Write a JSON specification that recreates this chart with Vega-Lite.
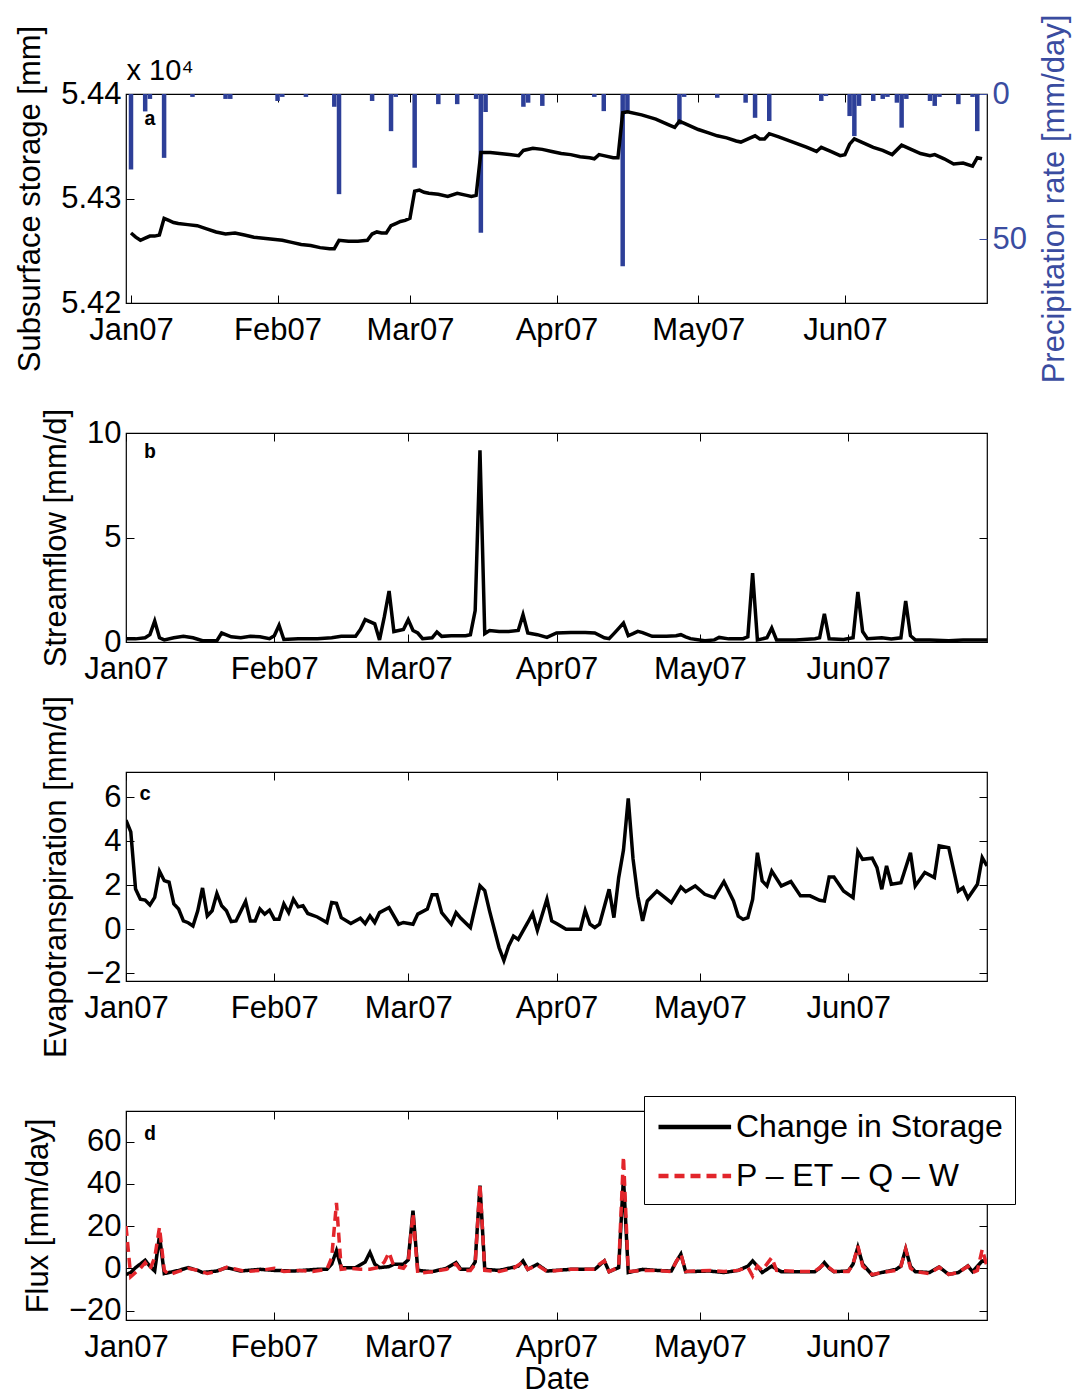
{
  "$schema": "https://vega.github.io/schema/vega-lite/v6.json",
  "background": "white",
  "padding": {"left": 13, "top": 13, "right": 5, "bottom": 5},
  "bounds": "flush",
  "spacing": 130,
  "resolve": {"legend": {"color": "independent", "strokeDash": "independent"}},
  "config": {
    "view": {"stroke": "black", "strokeWidth": 1.2},
    "font": "Liberation Sans",
    "axis": {"domain": false, "grid": false, "tickSize": -8, "tickColor": "black", "tickWidth": 1,
      "labelFont": "Liberation Sans", "labelFontSize": 31, "labelColor": "black", "labelPadding": 13,
      "titleFont": "Liberation Sans", "titleFontSize": 31, "titleFontWeight": "normal", "titleColor": "black"},
    "axisX": {"labelPadding": 20}
  },
  "datasets": {
    "storage": [
      {"d":"2007-01-01","v":54267},{"d":"2007-01-02","v":54263},{"d":"2007-01-03","v":54260},{"d":"2007-01-04","v":54262},{"d":"2007-01-05","v":54264},{"d":"2007-01-06","v":54264},{"d":"2007-01-07","v":54265},{"d":"2007-01-08","v":54281},{"d":"2007-01-09","v":54279},{"d":"2007-01-10","v":54277},{"d":"2007-01-11","v":54276},{"d":"2007-01-13","v":54275},{"d":"2007-01-15","v":54274},{"d":"2007-01-17","v":54271},{"d":"2007-01-19","v":54268},{"d":"2007-01-21","v":54266},{"d":"2007-01-23","v":54267},{"d":"2007-01-25","v":54265},{"d":"2007-01-27","v":54263},{"d":"2007-01-29","v":54262},{"d":"2007-01-31","v":54261},
      {"d":"2007-02-02","v":54260},{"d":"2007-02-04","v":54258},{"d":"2007-02-06","v":54256},{"d":"2007-02-08","v":54255},{"d":"2007-02-10","v":54253},{"d":"2007-02-12","v":54252},{"d":"2007-02-13","v":54252},{"d":"2007-02-14","v":54260},{"d":"2007-02-16","v":54259},{"d":"2007-02-18","v":54259},{"d":"2007-02-20","v":54260},{"d":"2007-02-21","v":54266},{"d":"2007-02-22","v":54268},{"d":"2007-02-23","v":54267},{"d":"2007-02-24","v":54267},{"d":"2007-02-25","v":54274},{"d":"2007-02-26","v":54276},{"d":"2007-02-27","v":54278},{"d":"2007-02-28","v":54279},
      {"d":"2007-03-01","v":54281},{"d":"2007-03-02","v":54307},{"d":"2007-03-03","v":54308},{"d":"2007-03-04","v":54306},{"d":"2007-03-05","v":54305},{"d":"2007-03-07","v":54304},{"d":"2007-03-09","v":54302},{"d":"2007-03-11","v":54305},{"d":"2007-03-13","v":54303},{"d":"2007-03-14","v":54302},{"d":"2007-03-15","v":54303},{"d":"2007-03-16","v":54344},{"d":"2007-03-18","v":54344},{"d":"2007-03-20","v":54343},{"d":"2007-03-22","v":54342},{"d":"2007-03-24","v":54341},{"d":"2007-03-25","v":54346},{"d":"2007-03-27","v":54348},{"d":"2007-03-29","v":54347},{"d":"2007-03-31","v":54345},
      {"d":"2007-04-02","v":54343},{"d":"2007-04-04","v":54342},{"d":"2007-04-06","v":54340},{"d":"2007-04-08","v":54339},{"d":"2007-04-09","v":54338},{"d":"2007-04-10","v":54342},{"d":"2007-04-11","v":54341},{"d":"2007-04-13","v":54339},{"d":"2007-04-14","v":54339},{"d":"2007-04-15","v":54382},{"d":"2007-04-16","v":54383},{"d":"2007-04-19","v":54380},{"d":"2007-04-22","v":54376},{"d":"2007-04-25","v":54370},{"d":"2007-04-26","v":54368},{"d":"2007-04-27","v":54374},{"d":"2007-04-29","v":54370},
      {"d":"2007-05-01","v":54366},{"d":"2007-05-03","v":54363},{"d":"2007-05-05","v":54360},{"d":"2007-05-07","v":54358},{"d":"2007-05-09","v":54355},{"d":"2007-05-10","v":54354},{"d":"2007-05-12","v":54358},{"d":"2007-05-13","v":54360},{"d":"2007-05-14","v":54357},{"d":"2007-05-15","v":54357},{"d":"2007-05-16","v":54362},{"d":"2007-05-18","v":54359},{"d":"2007-05-21","v":54354},{"d":"2007-05-24","v":54349},{"d":"2007-05-26","v":54345},{"d":"2007-05-27","v":54349},{"d":"2007-05-29","v":54345},{"d":"2007-05-31","v":54341},
      {"d":"2007-06-01","v":54342},{"d":"2007-06-02","v":54352},{"d":"2007-06-03","v":54357},{"d":"2007-06-05","v":54353},{"d":"2007-06-07","v":54349},{"d":"2007-06-09","v":54346},{"d":"2007-06-11","v":54342},{"d":"2007-06-13","v":54351},{"d":"2007-06-15","v":54347},{"d":"2007-06-17","v":54343},{"d":"2007-06-19","v":54341},{"d":"2007-06-20","v":54342},{"d":"2007-06-22","v":54338},{"d":"2007-06-24","v":54333},{"d":"2007-06-26","v":54334},{"d":"2007-06-28","v":54331},{"d":"2007-06-29","v":54339},{"d":"2007-06-30","v":54338}
    ],
    "precip": [
      {"d":"2007-01-01","p":26},{"d":"2007-01-04","p":6},{"d":"2007-01-05","p":1.7},{"d":"2007-01-08","p":22},{"d":"2007-01-14","p":1},{"d":"2007-01-21","p":1.7},{"d":"2007-01-22","p":1.7},
      {"d":"2007-02-01","p":2.4},{"d":"2007-02-02","p":1},{"d":"2007-02-07","p":1},{"d":"2007-02-13","p":4.4},{"d":"2007-02-14","p":34.5},{"d":"2007-02-21","p":2.4},{"d":"2007-02-25","p":12.8},{"d":"2007-02-26","p":1},
      {"d":"2007-03-02","p":25.4},{"d":"2007-03-07","p":3.5},{"d":"2007-03-11","p":3.5},{"d":"2007-03-15","p":1.7},{"d":"2007-03-16","p":47.8},{"d":"2007-03-17","p":6.2},{"d":"2007-03-25","p":4.4},{"d":"2007-03-26","p":3},{"d":"2007-03-29","p":4.1},
      {"d":"2007-04-09","p":1},{"d":"2007-04-11","p":5.9},{"d":"2007-04-15","p":59.3},{"d":"2007-04-16","p":5.9},{"d":"2007-04-27","p":10.5},{"d":"2007-04-28","p":1},
      {"d":"2007-05-05","p":1.3},{"d":"2007-05-11","p":3},{"d":"2007-05-13","p":8.2},{"d":"2007-05-16","p":9.3},{"d":"2007-05-27","p":2.4},{"d":"2007-05-28","p":0.7},
      {"d":"2007-06-02","p":7.6},{"d":"2007-06-03","p":14.5},{"d":"2007-06-04","p":4.1},{"d":"2007-06-07","p":2.4},{"d":"2007-06-09","p":1.7},{"d":"2007-06-10","p":1},{"d":"2007-06-12","p":3},{"d":"2007-06-13","p":11.6},{"d":"2007-06-14","p":1.7},{"d":"2007-06-19","p":2.4},{"d":"2007-06-20","p":4.1},{"d":"2007-06-21","p":1},{"d":"2007-06-25","p":3.5},{"d":"2007-06-28","p":1},{"d":"2007-06-29","p":12.8}
    ],
    "flow": [
      {"d":"2007-01-01","q":0.16},{"d":"2007-01-03","q":0.15},{"d":"2007-01-05","q":0.2},{"d":"2007-01-06","q":0.35},{"d":"2007-01-07","q":1.0},{"d":"2007-01-08","q":0.2},{"d":"2007-01-09","q":0.1},{"d":"2007-01-11","q":0.2},{"d":"2007-01-13","q":0.27},{"d":"2007-01-15","q":0.2},{"d":"2007-01-17","q":0.06},{"d":"2007-01-20","q":0.06},{"d":"2007-01-21","q":0.43},{"d":"2007-01-23","q":0.25},{"d":"2007-01-25","q":0.2},{"d":"2007-01-27","q":0.27},{"d":"2007-01-29","q":0.25},{"d":"2007-01-31","q":0.16},
      {"d":"2007-02-01","q":0.3},{"d":"2007-02-02","q":0.8},{"d":"2007-02-03","q":0.12},{"d":"2007-02-06","q":0.15},{"d":"2007-02-10","q":0.16},{"d":"2007-02-13","q":0.2},{"d":"2007-02-15","q":0.27},{"d":"2007-02-18","q":0.27},{"d":"2007-02-19","q":0.6},{"d":"2007-02-20","q":1.07},{"d":"2007-02-22","q":0.87},{"d":"2007-02-23","q":0.1},{"d":"2007-02-24","q":1.2},{"d":"2007-02-25","q":2.44},{"d":"2007-02-26","q":0.5},{"d":"2007-02-27","q":0.55},{"d":"2007-02-28","q":0.6},
      {"d":"2007-03-01","q":1.07},{"d":"2007-03-02","q":0.55},{"d":"2007-03-03","q":0.43},{"d":"2007-03-04","q":0.16},{"d":"2007-03-06","q":0.2},{"d":"2007-03-07","q":0.48},{"d":"2007-03-08","q":0.27},{"d":"2007-03-10","q":0.3},{"d":"2007-03-13","q":0.3},{"d":"2007-03-14","q":0.35},{"d":"2007-03-15","q":1.5},{"d":"2007-03-16","q":9.17},{"d":"2007-03-17","q":0.4},{"d":"2007-03-18","q":0.55},{"d":"2007-03-20","q":0.5},{"d":"2007-03-22","q":0.5},{"d":"2007-03-24","q":0.55},{"d":"2007-03-25","q":1.31},{"d":"2007-03-26","q":0.43},{"d":"2007-03-28","q":0.35},{"d":"2007-03-30","q":0.22},
      {"d":"2007-04-01","q":0.43},{"d":"2007-04-04","q":0.45},{"d":"2007-04-07","q":0.45},{"d":"2007-04-09","q":0.43},{"d":"2007-04-11","q":0.2},{"d":"2007-04-12","q":0.16},{"d":"2007-04-13","q":0.4},{"d":"2007-04-14","q":0.65},{"d":"2007-04-15","q":0.91},{"d":"2007-04-16","q":0.3},{"d":"2007-04-17","q":0.4},{"d":"2007-04-18","q":0.51},{"d":"2007-04-19","q":0.45},{"d":"2007-04-21","q":0.27},{"d":"2007-04-24","q":0.27},{"d":"2007-04-26","q":0.3},{"d":"2007-04-27","q":0.35},{"d":"2007-04-28","q":0.25},{"d":"2007-04-29","q":0.16},
      {"d":"2007-05-02","q":0.06},{"d":"2007-05-04","q":0.1},{"d":"2007-05-05","q":0.22},{"d":"2007-05-07","q":0.15},{"d":"2007-05-10","q":0.16},{"d":"2007-05-11","q":0.25},{"d":"2007-05-12","q":3.3},{"d":"2007-05-13","q":0.1},{"d":"2007-05-15","q":0.2},{"d":"2007-05-16","q":0.67},{"d":"2007-05-17","q":0.1},{"d":"2007-05-21","q":0.1},{"d":"2007-05-25","q":0.16},{"d":"2007-05-26","q":0.2},{"d":"2007-05-27","q":1.35},{"d":"2007-05-28","q":0.15},{"d":"2007-05-31","q":0.12},
      {"d":"2007-06-02","q":0.2},{"d":"2007-06-03","q":2.4},{"d":"2007-06-04","q":0.5},{"d":"2007-06-05","q":0.16},{"d":"2007-06-08","q":0.2},{"d":"2007-06-10","q":0.15},{"d":"2007-06-12","q":0.2},{"d":"2007-06-13","q":1.96},{"d":"2007-06-14","q":0.3},{"d":"2007-06-15","q":0.1},{"d":"2007-06-18","q":0.1},{"d":"2007-06-22","q":0.06},{"d":"2007-06-25","q":0.1},{"d":"2007-06-28","q":0.1},{"d":"2007-06-30","q":0.1}
    ],
    "et": [
      {"d":"2007-01-01","e":4.96},{"d":"2007-01-02","e":4.43},{"d":"2007-01-03","e":1.83},{"d":"2007-01-04","e":1.37},{"d":"2007-01-05","e":1.33},{"d":"2007-01-06","e":1.11},{"d":"2007-01-07","e":1.45},{"d":"2007-01-08","e":2.64},{"d":"2007-01-09","e":2.21},{"d":"2007-01-10","e":2.14},{"d":"2007-01-11","e":1.15},{"d":"2007-01-12","e":0.92},{"d":"2007-01-13","e":0.38},{"d":"2007-01-14","e":0.3},{"d":"2007-01-15","e":0.15},{"d":"2007-01-16","e":0.84},{"d":"2007-01-17","e":1.88},{"d":"2007-01-18","e":0.61},{"d":"2007-01-19","e":0.84},{"d":"2007-01-20","e":1.63},{"d":"2007-01-21","e":1.07},{"d":"2007-01-22","e":0.84},{"d":"2007-01-23","e":0.35},{"d":"2007-01-24","e":0.38},{"d":"2007-01-26","e":1.27},{"d":"2007-01-27","e":0.38},{"d":"2007-01-28","e":0.38},{"d":"2007-01-29","e":0.92},{"d":"2007-01-30","e":0.69},{"d":"2007-01-31","e":0.87},
      {"d":"2007-02-01","e":0.46},{"d":"2007-02-02","e":0.46},{"d":"2007-02-03","e":1.15},{"d":"2007-02-04","e":0.76},{"d":"2007-02-05","e":1.37},{"d":"2007-02-06","e":1.02},{"d":"2007-02-07","e":1.07},{"d":"2007-02-08","e":0.72},{"d":"2007-02-10","e":0.56},{"d":"2007-02-12","e":0.31},{"d":"2007-02-13","e":1.22},{"d":"2007-02-14","e":1.18},{"d":"2007-02-15","e":0.53},{"d":"2007-02-17","e":0.26},{"d":"2007-02-19","e":0.5},{"d":"2007-02-20","e":0.26},{"d":"2007-02-21","e":0.61},{"d":"2007-02-22","e":0.31},{"d":"2007-02-23","e":0.76},{"d":"2007-02-25","e":0.99},{"d":"2007-02-27","e":0.23},{"d":"2007-02-28","e":0.31},
      {"d":"2007-03-02","e":0.23},{"d":"2007-03-03","e":0.69},{"d":"2007-03-05","e":0.92},{"d":"2007-03-06","e":1.57},{"d":"2007-03-07","e":1.57},{"d":"2007-03-08","e":0.76},{"d":"2007-03-10","e":0.23},{"d":"2007-03-11","e":0.76},{"d":"2007-03-12","e":0.5},{"d":"2007-03-14","e":0.08},{"d":"2007-03-16","e":1.98},{"d":"2007-03-17","e":1.76},{"d":"2007-03-18","e":0.84},{"d":"2007-03-20","e":-0.84},{"d":"2007-03-21","e":-1.42},{"d":"2007-03-22","e":-0.76},{"d":"2007-03-23","e":-0.31},{"d":"2007-03-24","e":-0.46},{"d":"2007-03-26","e":0.31},{"d":"2007-03-27","e":0.72},{"d":"2007-03-28","e":-0.05},{"d":"2007-03-30","e":1.37},{"d":"2007-03-31","e":0.38},
      {"d":"2007-04-01","e":0.26},{"d":"2007-04-03","e":0.0},{"d":"2007-04-06","e":0.0},{"d":"2007-04-07","e":0.86},{"d":"2007-04-08","e":0.23},{"d":"2007-04-09","e":0.08},{"d":"2007-04-10","e":0.23},{"d":"2007-04-12","e":1.82},{"d":"2007-04-13","e":0.53},{"d":"2007-04-14","e":2.35},{"d":"2007-04-15","e":3.6},{"d":"2007-04-16","e":5.95},{"d":"2007-04-17","e":3.2},{"d":"2007-04-18","e":1.5},{"d":"2007-04-19","e":0.38},{"d":"2007-04-20","e":1.29},{"d":"2007-04-22","e":1.74},{"d":"2007-04-25","e":1.21},{"d":"2007-04-27","e":1.92},{"d":"2007-04-28","e":1.71},{"d":"2007-04-30","e":1.97},
      {"d":"2007-05-02","e":1.59},{"d":"2007-05-04","e":1.44},{"d":"2007-05-06","e":2.17},{"d":"2007-05-08","e":1.29},{"d":"2007-05-09","e":0.6},{"d":"2007-05-10","e":0.45},{"d":"2007-05-11","e":0.53},{"d":"2007-05-12","e":1.36},{"d":"2007-05-13","e":3.48},{"d":"2007-05-14","e":2.2},{"d":"2007-05-15","e":1.97},{"d":"2007-05-16","e":2.65},{"d":"2007-05-18","e":1.97},{"d":"2007-05-20","e":2.17},{"d":"2007-05-22","e":1.52},{"d":"2007-05-24","e":1.52},{"d":"2007-05-26","e":1.32},{"d":"2007-05-27","e":1.29},{"d":"2007-05-28","e":2.38},{"d":"2007-05-29","e":2.38},{"d":"2007-05-31","e":1.74},
      {"d":"2007-06-02","e":1.44},{"d":"2007-06-03","e":3.53},{"d":"2007-06-04","e":3.18},{"d":"2007-06-06","e":3.23},{"d":"2007-06-07","e":2.8},{"d":"2007-06-08","e":1.82},{"d":"2007-06-09","e":2.88},{"d":"2007-06-10","e":2.05},{"d":"2007-06-12","e":2.12},{"d":"2007-06-14","e":3.48},{"d":"2007-06-15","e":1.97},{"d":"2007-06-17","e":2.58},{"d":"2007-06-19","e":2.35},{"d":"2007-06-20","e":3.79},{"d":"2007-06-22","e":3.71},{"d":"2007-06-24","e":1.74},{"d":"2007-06-25","e":1.89},{"d":"2007-06-26","e":1.41},{"d":"2007-06-28","e":2.05},{"d":"2007-06-29","e":3.26},{"d":"2007-06-30","e":2.88}
    ],
    "flux": [
      {"s":"Change in Storage","d":"2007-01-01","f":-3},{"s":"Change in Storage","d":"2007-01-02","f":-2},{"s":"Change in Storage","d":"2007-01-03","f":0.3},{"s":"Change in Storage","d":"2007-01-04","f":2},{"s":"Change in Storage","d":"2007-01-05","f":3.8},{"s":"Change in Storage","d":"2007-01-06","f":1},{"s":"Change in Storage","d":"2007-01-07","f":-1.3},{"s":"Change in Storage","d":"2007-01-08","f":15.4},{"s":"Change in Storage","d":"2007-01-09","f":-2.5},{"s":"Change in Storage","d":"2007-01-10","f":-2},{"s":"Change in Storage","d":"2007-01-12","f":-1},{"s":"Change in Storage","d":"2007-01-14","f":0.3},{"s":"Change in Storage","d":"2007-01-16","f":-1},{"s":"Change in Storage","d":"2007-01-17","f":-2},{"s":"Change in Storage","d":"2007-01-20","f":-1.3},{"s":"Change in Storage","d":"2007-01-22","f":0.3},{"s":"Change in Storage","d":"2007-01-25","f":-1.3},{"s":"Change in Storage","d":"2007-01-29","f":-0.5},
      {"s":"Change in Storage","d":"2007-02-01","f":-1},{"s":"Change in Storage","d":"2007-02-05","f":-1.3},{"s":"Change in Storage","d":"2007-02-10","f":-0.5},{"s":"Change in Storage","d":"2007-02-12","f":-0.5},{"s":"Change in Storage","d":"2007-02-13","f":2},{"s":"Change in Storage","d":"2007-02-14","f":8.3},{"s":"Change in Storage","d":"2007-02-15","f":0.3},{"s":"Change in Storage","d":"2007-02-18","f":0.3},{"s":"Change in Storage","d":"2007-02-20","f":3},{"s":"Change in Storage","d":"2007-02-21","f":7.5},{"s":"Change in Storage","d":"2007-02-22","f":2},{"s":"Change in Storage","d":"2007-02-23","f":0.3},{"s":"Change in Storage","d":"2007-02-25","f":0.8},{"s":"Change in Storage","d":"2007-02-26","f":1.9},{"s":"Change in Storage","d":"2007-02-28","f":1.9},
      {"s":"Change in Storage","d":"2007-03-01","f":4},{"s":"Change in Storage","d":"2007-03-02","f":27.3},{"s":"Change in Storage","d":"2007-03-03","f":-1},{"s":"Change in Storage","d":"2007-03-06","f":-1.6},{"s":"Change in Storage","d":"2007-03-09","f":0},{"s":"Change in Storage","d":"2007-03-11","f":2.7},{"s":"Change in Storage","d":"2007-03-12","f":-0.5},{"s":"Change in Storage","d":"2007-03-14","f":-0.5},{"s":"Change in Storage","d":"2007-03-15","f":3},{"s":"Change in Storage","d":"2007-03-16","f":39.2},{"s":"Change in Storage","d":"2007-03-17","f":-0.5},{"s":"Change in Storage","d":"2007-03-20","f":-1},{"s":"Change in Storage","d":"2007-03-24","f":1},{"s":"Change in Storage","d":"2007-03-25","f":3.5},{"s":"Change in Storage","d":"2007-03-26","f":-0.5},{"s":"Change in Storage","d":"2007-03-28","f":1.9},{"s":"Change in Storage","d":"2007-03-30","f":-1.3},
      {"s":"Change in Storage","d":"2007-04-04","f":-0.5},{"s":"Change in Storage","d":"2007-04-09","f":-0.5},{"s":"Change in Storage","d":"2007-04-10","f":1.5},{"s":"Change in Storage","d":"2007-04-11","f":3.5},{"s":"Change in Storage","d":"2007-04-12","f":-1.6},{"s":"Change in Storage","d":"2007-04-14","f":0.3},{"s":"Change in Storage","d":"2007-04-15","f":43},{"s":"Change in Storage","d":"2007-04-16","f":-2},{"s":"Change in Storage","d":"2007-04-19","f":-0.5},{"s":"Change in Storage","d":"2007-04-22","f":-1},{"s":"Change in Storage","d":"2007-04-25","f":-1.3},{"s":"Change in Storage","d":"2007-04-26","f":3},{"s":"Change in Storage","d":"2007-04-27","f":6.7},{"s":"Change in Storage","d":"2007-04-28","f":-1.6},
      {"s":"Change in Storage","d":"2007-05-03","f":-1.3},{"s":"Change in Storage","d":"2007-05-06","f":-2},{"s":"Change in Storage","d":"2007-05-09","f":-1},{"s":"Change in Storage","d":"2007-05-11","f":1},{"s":"Change in Storage","d":"2007-05-12","f":3.5},{"s":"Change in Storage","d":"2007-05-13","f":1},{"s":"Change in Storage","d":"2007-05-14","f":-2},{"s":"Change in Storage","d":"2007-05-16","f":1},{"s":"Change in Storage","d":"2007-05-18","f":-1.6},{"s":"Change in Storage","d":"2007-05-25","f":-1.6},{"s":"Change in Storage","d":"2007-05-26","f":0},{"s":"Change in Storage","d":"2007-05-27","f":2.7},{"s":"Change in Storage","d":"2007-05-28","f":0},{"s":"Change in Storage","d":"2007-05-29","f":-1.6},
      {"s":"Change in Storage","d":"2007-06-01","f":-1.3},{"s":"Change in Storage","d":"2007-06-02","f":2},{"s":"Change in Storage","d":"2007-06-03","f":9.9},{"s":"Change in Storage","d":"2007-06-04","f":2},{"s":"Change in Storage","d":"2007-06-06","f":-3.2},{"s":"Change in Storage","d":"2007-06-08","f":-2},{"s":"Change in Storage","d":"2007-06-11","f":-0.5},{"s":"Change in Storage","d":"2007-06-12","f":1},{"s":"Change in Storage","d":"2007-06-13","f":9.1},{"s":"Change in Storage","d":"2007-06-14","f":1},{"s":"Change in Storage","d":"2007-06-15","f":-1.6},{"s":"Change in Storage","d":"2007-06-18","f":-2},{"s":"Change in Storage","d":"2007-06-20","f":0.6},{"s":"Change in Storage","d":"2007-06-22","f":-2.9},{"s":"Change in Storage","d":"2007-06-24","f":-2},{"s":"Change in Storage","d":"2007-06-26","f":1.1},{"s":"Change in Storage","d":"2007-06-27","f":-1.6},{"s":"Change in Storage","d":"2007-06-29","f":3.5},{"s":"Change in Storage","d":"2007-06-30","f":3},
      {"s":"P – ET – Q – W","d":"2007-01-01","f":20},{"s":"P – ET – Q – W","d":"2007-01-02","f":-4},{"s":"P – ET – Q – W","d":"2007-01-03","f":-2},{"s":"P – ET – Q – W","d":"2007-01-04","f":0},{"s":"P – ET – Q – W","d":"2007-01-05","f":2.7},{"s":"P – ET – Q – W","d":"2007-01-06","f":-0.5},{"s":"P – ET – Q – W","d":"2007-01-07","f":5},{"s":"P – ET – Q – W","d":"2007-01-08","f":19.4},{"s":"P – ET – Q – W","d":"2007-01-09","f":-1},{"s":"P – ET – Q – W","d":"2007-01-10","f":-3},{"s":"P – ET – Q – W","d":"2007-01-12","f":-1.5},{"s":"P – ET – Q – W","d":"2007-01-14","f":0},{"s":"P – ET – Q – W","d":"2007-01-16","f":-1},{"s":"P – ET – Q – W","d":"2007-01-18","f":-2.5},{"s":"P – ET – Q – W","d":"2007-01-20","f":-1.5},{"s":"P – ET – Q – W","d":"2007-01-22","f":0.5},{"s":"P – ET – Q – W","d":"2007-01-24","f":-0.5},{"s":"P – ET – Q – W","d":"2007-01-26","f":-1.5},{"s":"P – ET – Q – W","d":"2007-01-29","f":-1},
      {"s":"P – ET – Q – W","d":"2007-02-01","f":0},{"s":"P – ET – Q – W","d":"2007-02-03","f":-1.5},{"s":"P – ET – Q – W","d":"2007-02-06","f":-1},{"s":"P – ET – Q – W","d":"2007-02-09","f":-1.5},{"s":"P – ET – Q – W","d":"2007-02-12","f":-0.5},{"s":"P – ET – Q – W","d":"2007-02-13","f":5},{"s":"P – ET – Q – W","d":"2007-02-14","f":31},{"s":"P – ET – Q – W","d":"2007-02-15","f":-0.5},{"s":"P – ET – Q – W","d":"2007-02-17","f":0},{"s":"P – ET – Q – W","d":"2007-02-19","f":-0.5},{"s":"P – ET – Q – W","d":"2007-02-21","f":-0.5},{"s":"P – ET – Q – W","d":"2007-02-23","f":0.5},{"s":"P – ET – Q – W","d":"2007-02-24","f":3},{"s":"P – ET – Q – W","d":"2007-02-25","f":7.5},{"s":"P – ET – Q – W","d":"2007-02-26","f":1},{"s":"P – ET – Q – W","d":"2007-02-28","f":0},
      {"s":"P – ET – Q – W","d":"2007-03-01","f":3},{"s":"P – ET – Q – W","d":"2007-03-02","f":26},{"s":"P – ET – Q – W","d":"2007-03-03","f":-2.5},{"s":"P – ET – Q – W","d":"2007-03-06","f":-1.6},{"s":"P – ET – Q – W","d":"2007-03-09","f":-0.5},{"s":"P – ET – Q – W","d":"2007-03-11","f":2},{"s":"P – ET – Q – W","d":"2007-03-12","f":-1},{"s":"P – ET – Q – W","d":"2007-03-14","f":-1},{"s":"P – ET – Q – W","d":"2007-03-15","f":2},{"s":"P – ET – Q – W","d":"2007-03-16","f":40},{"s":"P – ET – Q – W","d":"2007-03-17","f":-1},{"s":"P – ET – Q – W","d":"2007-03-20","f":-1.5},{"s":"P – ET – Q – W","d":"2007-03-23","f":0},{"s":"P – ET – Q – W","d":"2007-03-25","f":3},{"s":"P – ET – Q – W","d":"2007-03-26","f":-0.5},{"s":"P – ET – Q – W","d":"2007-03-28","f":1.5},{"s":"P – ET – Q – W","d":"2007-03-30","f":-1.5},
      {"s":"P – ET – Q – W","d":"2007-04-04","f":-0.5},{"s":"P – ET – Q – W","d":"2007-04-09","f":-0.5},{"s":"P – ET – Q – W","d":"2007-04-10","f":2},{"s":"P – ET – Q – W","d":"2007-04-11","f":3.5},{"s":"P – ET – Q – W","d":"2007-04-12","f":-1.6},{"s":"P – ET – Q – W","d":"2007-04-14","f":0.5},{"s":"P – ET – Q – W","d":"2007-04-15","f":53},{"s":"P – ET – Q – W","d":"2007-04-16","f":-1.5},{"s":"P – ET – Q – W","d":"2007-04-19","f":-1},{"s":"P – ET – Q – W","d":"2007-04-22","f":-1},{"s":"P – ET – Q – W","d":"2007-04-25","f":-1.5},{"s":"P – ET – Q – W","d":"2007-04-26","f":3},{"s":"P – ET – Q – W","d":"2007-04-27","f":6.7},{"s":"P – ET – Q – W","d":"2007-04-28","f":-1.5},
      {"s":"P – ET – Q – W","d":"2007-05-03","f":-1},{"s":"P – ET – Q – W","d":"2007-05-06","f":-1.5},{"s":"P – ET – Q – W","d":"2007-05-09","f":-1},{"s":"P – ET – Q – W","d":"2007-05-11","f":0.5},{"s":"P – ET – Q – W","d":"2007-05-12","f":-3.7},{"s":"P – ET – Q – W","d":"2007-05-13","f":1},{"s":"P – ET – Q – W","d":"2007-05-14","f":-1},{"s":"P – ET – Q – W","d":"2007-05-16","f":5.1},{"s":"P – ET – Q – W","d":"2007-05-17","f":-1},{"s":"P – ET – Q – W","d":"2007-05-21","f":-1.5},{"s":"P – ET – Q – W","d":"2007-05-25","f":-1.5},{"s":"P – ET – Q – W","d":"2007-05-27","f":2},{"s":"P – ET – Q – W","d":"2007-05-29","f":-1.5},
      {"s":"P – ET – Q – W","d":"2007-06-01","f":-1.5},{"s":"P – ET – Q – W","d":"2007-06-02","f":2},{"s":"P – ET – Q – W","d":"2007-06-03","f":10.6},{"s":"P – ET – Q – W","d":"2007-06-04","f":1},{"s":"P – ET – Q – W","d":"2007-06-06","f":-3},{"s":"P – ET – Q – W","d":"2007-06-08","f":-2},{"s":"P – ET – Q – W","d":"2007-06-11","f":-1},{"s":"P – ET – Q – W","d":"2007-06-12","f":1},{"s":"P – ET – Q – W","d":"2007-06-13","f":9.1},{"s":"P – ET – Q – W","d":"2007-06-14","f":0},{"s":"P – ET – Q – W","d":"2007-06-15","f":-1.6},{"s":"P – ET – Q – W","d":"2007-06-18","f":-2.5},{"s":"P – ET – Q – W","d":"2007-06-20","f":0.5},{"s":"P – ET – Q – W","d":"2007-06-22","f":-2.9},{"s":"P – ET – Q – W","d":"2007-06-24","f":-2},{"s":"P – ET – Q – W","d":"2007-06-26","f":1},{"s":"P – ET – Q – W","d":"2007-06-27","f":-2},{"s":"P – ET – Q – W","d":"2007-06-28","f":-1},{"s":"P – ET – Q – W","d":"2007-06-29","f":9},{"s":"P – ET – Q – W","d":"2007-06-30","f":1}
    ]
  },
  "vconcat": [
    {
      "width": 861, "height": 209,
      "resolve": {"scale": {"y": "independent"}, "axis": {"x": "independent"}},
      "layer": [
        {
          "data": {"name": "precip"},
          "mark": {"type": "bar", "color": "#2d3f98", "width": 4.5, "clip": true},
          "encoding": {
            "x": {"field": "d", "type": "temporal", "scale": {"type": "utc", "domain": [{"year": 2007, "month": 1, "date": 1, "utc": true}, {"year": 2007, "month": 6, "date": 30, "utc": true}]}, "axis": null},
            "y": {"field": "p", "type": "quantitative", "scale": {"domain": [0, 72], "reverse": true, "nice": false, "zero": true},
              "axis": {"orient": "right", "values": [0, 50], "labelColor": "#3a4ca0", "tickColor": "#3a4ca0", "title": "Precipitation rate [mm/day]", "titleColor": "#3a4ca0", "titleAngle": 270, "titleBaseline": "middle", "titleX": 67, "titlePadding": 10}}
          }
        },
        {
          "data": {"name": "storage"},
          "mark": {"type": "line", "color": "black", "strokeWidth": 3.5, "clip": true},
          "encoding": {
            "x": {"field": "d", "type": "temporal", "scale": {"type": "utc", "domain": [{"year": 2007, "month": 1, "date": 1, "utc": true}, {"year": 2007, "month": 6, "date": 30, "utc": true}]},
              "axis": {"orient": "bottom", "title": null, "format": "%b%y", "labelFlush": false, "values": [{"year": 2007, "month": 1, "date": 1, "utc": true}, {"year": 2007, "month": 2, "date": 1, "utc": true}, {"year": 2007, "month": 3, "date": 1, "utc": true}, {"year": 2007, "month": 4, "date": 1, "utc": true}, {"year": 2007, "month": 5, "date": 1, "utc": true}, {"year": 2007, "month": 6, "date": 1, "utc": true}]}},
            "y": {"field": "v", "type": "quantitative", "scale": {"domain": [54200, 54400], "nice": false, "zero": false},
              "axis": {"orient": "left", "values": [54200, 54300, 54400], "labelExpr": "format(datum.value/10000, '.2f')", "title": "Subsurface storage [mm]", "titleBaseline": "middle", "titleX": -96}}
          }
        },
        {
          "data": {"name": "storage"},
          "mark": {"type": "line", "opacity": 0},
          "encoding": {
            "x": {"field": "d", "type": "temporal", "scale": {"type": "utc", "domain": [{"year": 2007, "month": 1, "date": 1, "utc": true}, {"year": 2007, "month": 6, "date": 30, "utc": true}]},
              "axis": {"orient": "top", "labels": false, "title": "x 10⁴", "titleAnchor": "start", "titleFontSize": 29, "titlePadding": 8, "values": [{"year": 2007, "month": 1, "date": 1, "utc": true}, {"year": 2007, "month": 2, "date": 1, "utc": true}, {"year": 2007, "month": 3, "date": 1, "utc": true}, {"year": 2007, "month": 4, "date": 1, "utc": true}, {"year": 2007, "month": 5, "date": 1, "utc": true}, {"year": 2007, "month": 6, "date": 1, "utc": true}]}},
            "y": {"field": "v", "type": "quantitative", "scale": {"domain": [54200, 54400], "nice": false, "zero": false}, "axis": null}
          }
        },
        {
          "data": {"values": [{"d": "2007-01-05", "v": 54376, "t": "a"}]},
          "mark": {"type": "text", "font": "Liberation Mono", "fontWeight": "bold", "fontSize": 20, "color": "black"},
          "encoding": {
            "x": {"field": "d", "type": "temporal", "scale": {"type": "utc", "domain": [{"year": 2007, "month": 1, "date": 1, "utc": true}, {"year": 2007, "month": 6, "date": 30, "utc": true}]}, "axis": null},
            "y": {"field": "v", "type": "quantitative", "scale": {"domain": [54200, 54400], "nice": false, "zero": false}, "axis": null},
            "text": {"field": "t"}
          }
        }
      ]
    },
    {
      "width": 861, "height": 209,
      "resolve": {"axis": {"x": "independent", "y": "independent"}},
      "layer": [
        {
          "data": {"name": "flow"},
          "mark": {"type": "line", "color": "black", "strokeWidth": 3.5, "clip": true},
          "encoding": {
            "x": {"field": "d", "type": "temporal", "scale": {"type": "utc", "domain": [{"year": 2007, "month": 1, "date": 1, "utc": true}, {"year": 2007, "month": 6, "date": 30, "utc": true}]},
              "axis": {"orient": "bottom", "title": null, "format": "%b%y", "labelFlush": false, "values": [{"year": 2007, "month": 1, "date": 1, "utc": true}, {"year": 2007, "month": 2, "date": 1, "utc": true}, {"year": 2007, "month": 3, "date": 1, "utc": true}, {"year": 2007, "month": 4, "date": 1, "utc": true}, {"year": 2007, "month": 5, "date": 1, "utc": true}, {"year": 2007, "month": 6, "date": 1, "utc": true}]}},
            "y": {"field": "q", "type": "quantitative", "scale": {"domain": [0, 10], "nice": false},
              "axis": {"orient": "left", "values": [0, 5, 10], "title": "Streamflow [mm/d]", "titleBaseline": "middle", "titleX": -70}}
          }
        },
        {
          "data": {"name": "flow"},
          "mark": {"type": "line", "opacity": 0},
          "encoding": {
            "x": {"field": "d", "type": "temporal", "axis": {"orient": "top", "labels": false, "title": null, "values": [{"year": 2007, "month": 1, "date": 1, "utc": true}, {"year": 2007, "month": 2, "date": 1, "utc": true}, {"year": 2007, "month": 3, "date": 1, "utc": true}, {"year": 2007, "month": 4, "date": 1, "utc": true}, {"year": 2007, "month": 5, "date": 1, "utc": true}, {"year": 2007, "month": 6, "date": 1, "utc": true}]}},
            "y": {"field": "q", "type": "quantitative", "axis": {"orient": "right", "labels": false, "title": null, "values": [0, 5, 10]}}
          }
        },
        {
          "data": {"values": [{"d": "2007-01-06", "q": 9.1, "t": "b"}]},
          "mark": {"type": "text", "font": "Liberation Mono", "fontWeight": "bold", "fontSize": 20, "color": "black"},
          "encoding": {
            "x": {"field": "d", "type": "temporal", "axis": null},
            "y": {"field": "q", "type": "quantitative", "axis": null},
            "text": {"field": "t"}
          }
        }
      ]
    },
    {
      "width": 861, "height": 209,
      "resolve": {"axis": {"x": "independent", "y": "independent"}},
      "layer": [
        {
          "data": {"name": "et"},
          "mark": {"type": "line", "color": "black", "strokeWidth": 3.5, "clip": true},
          "encoding": {
            "x": {"field": "d", "type": "temporal", "scale": {"type": "utc", "domain": [{"year": 2007, "month": 1, "date": 1, "utc": true}, {"year": 2007, "month": 6, "date": 30, "utc": true}]},
              "axis": {"orient": "bottom", "title": null, "format": "%b%y", "labelFlush": false, "values": [{"year": 2007, "month": 1, "date": 1, "utc": true}, {"year": 2007, "month": 2, "date": 1, "utc": true}, {"year": 2007, "month": 3, "date": 1, "utc": true}, {"year": 2007, "month": 4, "date": 1, "utc": true}, {"year": 2007, "month": 5, "date": 1, "utc": true}, {"year": 2007, "month": 6, "date": 1, "utc": true}]}},
            "y": {"field": "e", "type": "quantitative", "scale": {"domain": [-2.35, 7.15], "nice": false, "zero": false},
              "axis": {"orient": "left", "values": [-2, 0, 2, 4, 6], "title": "Evapotranspiration [mm/d]", "titleBaseline": "middle", "titleX": -70}}
          }
        },
        {
          "data": {"name": "et"},
          "mark": {"type": "line", "opacity": 0},
          "encoding": {
            "x": {"field": "d", "type": "temporal", "axis": {"orient": "top", "labels": false, "title": null, "values": [{"year": 2007, "month": 1, "date": 1, "utc": true}, {"year": 2007, "month": 2, "date": 1, "utc": true}, {"year": 2007, "month": 3, "date": 1, "utc": true}, {"year": 2007, "month": 4, "date": 1, "utc": true}, {"year": 2007, "month": 5, "date": 1, "utc": true}, {"year": 2007, "month": 6, "date": 1, "utc": true}]}},
            "y": {"field": "e", "type": "quantitative", "axis": {"orient": "right", "labels": false, "title": null, "values": [-2, 0, 2, 4, 6]}}
          }
        },
        {
          "data": {"values": [{"d": "2007-01-05", "e": 6.14, "t": "c"}]},
          "mark": {"type": "text", "font": "Liberation Mono", "fontWeight": "bold", "fontSize": 20, "color": "black"},
          "encoding": {
            "x": {"field": "d", "type": "temporal", "axis": null},
            "y": {"field": "e", "type": "quantitative", "axis": null},
            "text": {"field": "t"}
          }
        }
      ]
    },
    {
      "width": 861, "height": 209,
      "resolve": {"axis": {"x": "independent", "y": "independent"}},
      "layer": [
        {
          "data": {"name": "flux"},
          "mark": {"type": "line", "strokeWidth": 3.5, "clip": true},
          "encoding": {
            "x": {"field": "d", "type": "temporal", "scale": {"type": "utc", "domain": [{"year": 2007, "month": 1, "date": 1, "utc": true}, {"year": 2007, "month": 6, "date": 30, "utc": true}]},
              "axis": {"orient": "bottom", "title": "Date", "titlePadding": 2, "format": "%b%y", "labelFlush": false, "values": [{"year": 2007, "month": 1, "date": 1, "utc": true}, {"year": 2007, "month": 2, "date": 1, "utc": true}, {"year": 2007, "month": 3, "date": 1, "utc": true}, {"year": 2007, "month": 4, "date": 1, "utc": true}, {"year": 2007, "month": 5, "date": 1, "utc": true}, {"year": 2007, "month": 6, "date": 1, "utc": true}]}},
            "y": {"field": "f", "type": "quantitative", "scale": {"domain": [-24.5, 74.5], "nice": false, "zero": false},
              "axis": {"orient": "left", "values": [-20, 0, 20, 40, 60], "title": "Flux [mm/day]", "titleBaseline": "middle", "titleX": -88}},
            "color": {"field": "s", "type": "nominal", "scale": {"domain": ["Change in Storage", "P – ET – Q – W"], "range": ["black", "#e2252b"]},
              "legend": {"title": null, "orient": "none", "legendX": 518, "legendY": -15, "strokeColor": "black", "fillColor": "white", "padding": 12, "symbolType": "M-1,0H3.4", "symbolSize": 1089, "symbolStrokeWidth": 4.5, "labelFont": "Liberation Sans", "labelFontSize": 32, "labelColor": "black", "labelOffset": 42, "labelLimit": 500, "rowPadding": 14}},
            "strokeDash": {"field": "s", "type": "nominal", "scale": {"domain": ["Change in Storage", "P – ET – Q – W"], "range": [[1, 0], [10, 6]]},
              "legend": {"title": null, "orient": "none", "legendX": 518, "legendY": -15, "strokeColor": "black", "fillColor": "white", "padding": 12, "symbolType": "M-1,0H3.4", "symbolSize": 1089, "symbolStrokeWidth": 4.5, "labelFont": "Liberation Sans", "labelFontSize": 32, "labelColor": "black", "labelOffset": 42, "labelLimit": 500, "rowPadding": 14}}
          }
        },
        {
          "data": {"name": "flux"},
          "mark": {"type": "line", "opacity": 0},
          "encoding": {
            "x": {"field": "d", "type": "temporal", "axis": {"orient": "top", "labels": false, "title": null, "values": [{"year": 2007, "month": 1, "date": 1, "utc": true}, {"year": 2007, "month": 2, "date": 1, "utc": true}, {"year": 2007, "month": 3, "date": 1, "utc": true}, {"year": 2007, "month": 4, "date": 1, "utc": true}, {"year": 2007, "month": 5, "date": 1, "utc": true}, {"year": 2007, "month": 6, "date": 1, "utc": true}]}},
            "y": {"field": "f", "type": "quantitative", "axis": {"orient": "right", "labels": false, "title": null, "values": [-20, 0, 20, 40, 60]}}
          }
        },
        {
          "data": {"values": [{"d": "2007-01-06", "f": 63.5, "t": "d"}]},
          "mark": {"type": "text", "font": "Liberation Mono", "fontWeight": "bold", "fontSize": 20, "color": "black"},
          "encoding": {
            "x": {"field": "d", "type": "temporal", "axis": null},
            "y": {"field": "f", "type": "quantitative", "axis": null},
            "text": {"field": "t"}
          }
        }
      ]
    }
  ]
}
